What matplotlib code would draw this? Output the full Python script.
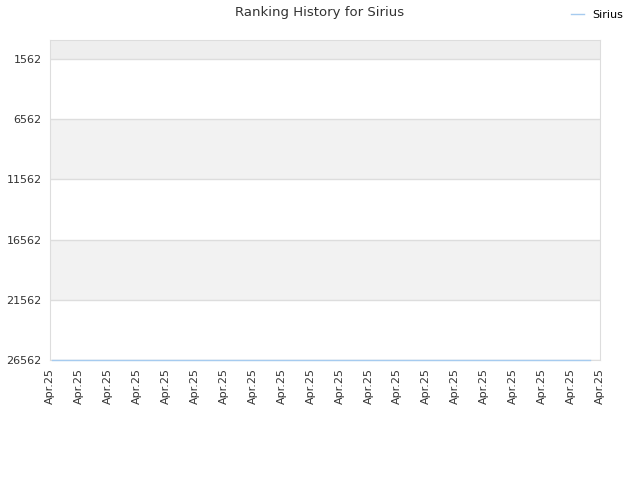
import matplotlib
matplotlib.use('Agg')
import matplotlib.pyplot as plt

# data
tick_pos = list(range(20))
tick_labels = ['Apr.25'] * 20
days = [0.07, 18.65]
ranks = [26562, 26562]
y_ticks = [1562, 6562, 11562, 16562, 21562, 26562]
bands = [(0, 1562, '#eeeeee'), (6562, 11562, '#f2f2f2'), (16562, 21562, '#f2f2f2')]

plt.rcParams['font.family'] = ['DejaVu Sans']

fig = plt.figure(figsize=(6.4, 4.8), dpi=100)
ax = fig.add_axes([50 / 640, 120 / 480, 550 / 640, 320 / 480])

for lo, hi, c in bands:
    ax.axhspan(lo, hi, color=c, zorder=0, lw=0)

ax.plot(days, ranks, color='#a6cbef', lw=1.0, label='Sirius', zorder=5, clip_on=False)

ax.set_ylim(26562, 0)
ax.set_xlim(0, 19)
ax.set_yticks(y_ticks)
ax.set_yticklabels([str(v) for v in y_ticks], fontsize=8, color='#333333')
ax.set_xticks(tick_pos)
ax.set_xticklabels(tick_labels, rotation=90, fontsize=8, color='#333333')
ax.tick_params(length=0, pad=6)
ax.yaxis.grid(True, color='#dddddd', lw=1)
ax.set_axisbelow(True)
for s in ax.spines.values():
    s.set_color('#dddddd')

fig.suptitle('Ranking History for Sirius', fontsize=9.5, color='#333333', y=0.988)
fig.legend(loc='upper right', bbox_to_anchor=(0.99, 1.0), frameon=False,
           fontsize=8, handlelength=1.2)

fig.savefig('out.png', dpi=100)
